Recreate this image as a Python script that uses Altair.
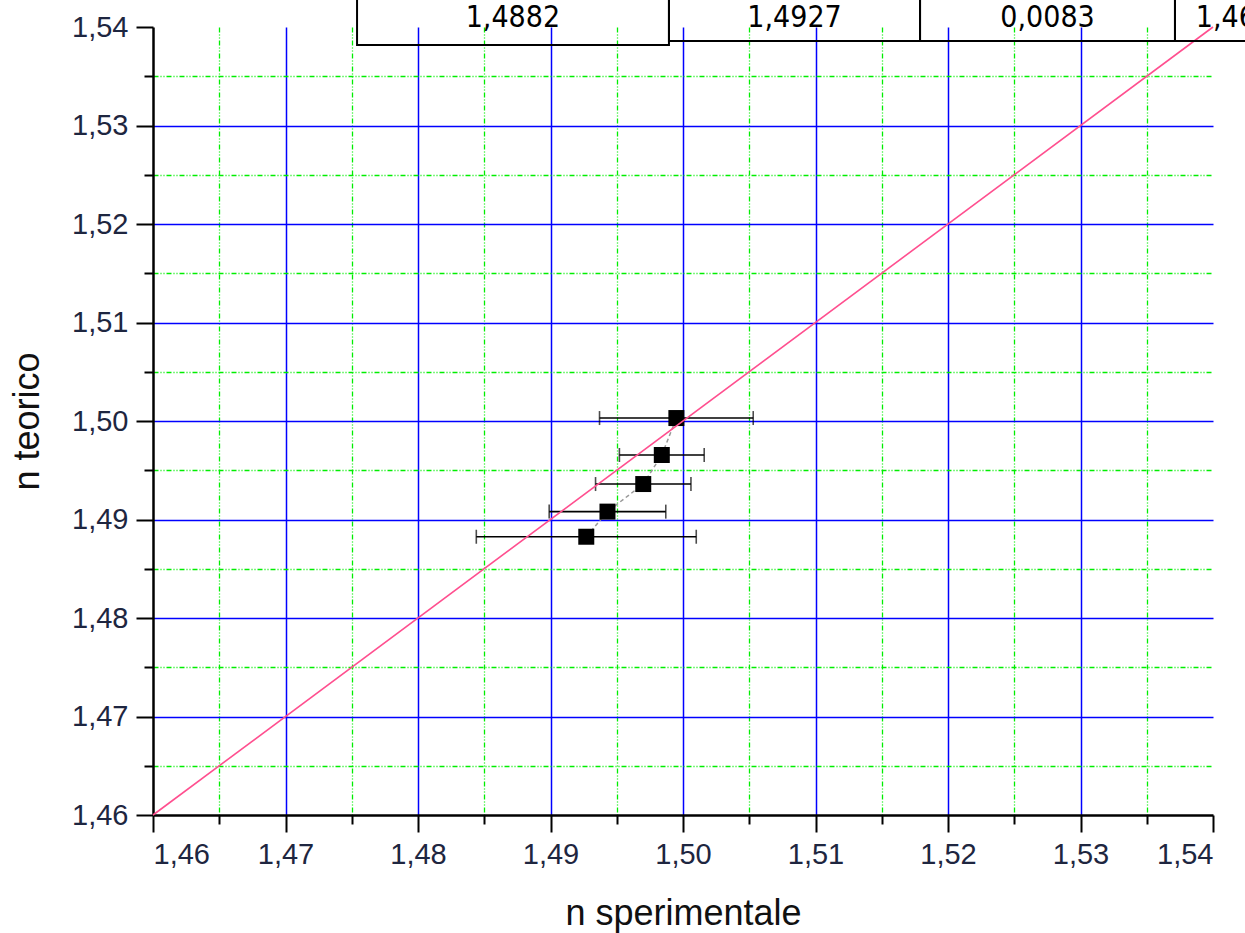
import altair as alt
import pandas as pd

# measured data (n sperimentale, n teorico, errore su n sperimentale)
n_sper = [1.4927, 1.4943, 1.4970, 1.4984, 1.4995]
n_teor = [1.48825, 1.4908, 1.4936, 1.49655, 1.5003]
err_sper = [0.0083, 0.0044, 0.0036, 0.0032, 0.0058]

# y = x reference line
diag = [1.46, 1.54]

# fragment of the table at the top (cells in data units)
cell_text = ["1,4882", "1,4927", "0,0083", "1,46"]
cell_x1 = [1.47540, 1.49894, 1.51789, 1.53713]
cell_x2 = [1.49894, 1.51789, 1.53713, 1.54860]
cell_y1 = [1.53817, 1.53858, 1.53858, 1.53858]
cell_y2 = [1.54380, 1.54380, 1.54380, 1.54380]
text_x = [1.48716, 1.50842, 1.52751, 1.53870]
text_y = [1.53995, 1.54000, 1.54000, 1.54000]
text_align = ["center", "center", "center", "left"]

pts = pd.DataFrame({
    "x": n_sper, "y": n_teor,
    "lo": [a - e for a, e in zip(n_sper, err_sper)],
    "hi": [a + e for a, e in zip(n_sper, err_sper)],
    "order": list(range(len(n_sper))),
})
dg = pd.DataFrame({"x": diag, "y": diag})
tab = pd.DataFrame({"t": cell_text, "x1": cell_x1, "x2": cell_x2, "y1": cell_y1,
                    "y2": cell_y2, "tx": text_x, "ty": text_y, "al": text_align})

ticks = [round(1.46 + 0.005 * i, 3) for i in range(17)]
major = "abs(round(datum.value*200)) % 2 == 0"
edge = "datum.value < 1.4601 || datum.value > 1.5399"
lab = f"{major} ? replace(format(datum.value, '.2f'), '.', ',') : ''"

def make_axis(title, pad_title, pad_label):
    return alt.Axis(
        values=ticks, labelExpr=lab, title=title,
        domainColor="black", domainWidth=2.5,
        tickColor="black", tickWidth=2,
        tickSize={"condition": {"test": major, "value": 17}, "value": 9},
        grid=True,
        gridColor={"condition": {"test": major, "value": "#0000ff"}, "value": "#00ee00"},
        gridDash={"condition": {"test": major, "value": []}, "value": [5, 2, 1, 2, 1, 2]},
        gridWidth={"condition": {"test": major, "value": 1.5}, "value": 1.3},
        gridOpacity={"condition": {"test": edge, "value": 0}, "value": 1},
        labelFont="Liberation Sans", labelFontSize=29, labelColor="#1e2640",
        labelPadding=pad_label,
        titleFont="Liberation Sans", titleFontSize=36, titleFontWeight="normal",
        titleColor="#111111", titlePadding=pad_title,
    )

xs = alt.Scale(domain=[1.46, 1.54], nice=False, zero=False)
ys = alt.Scale(domain=[1.46, 1.54], nice=False, zero=False)

base = alt.Chart(pts)

grid_layer = base.mark_point(opacity=0).encode(
    x=alt.X("x:Q", scale=xs, axis=make_axis("n sperimentale", 27, 8)),
    y=alt.Y("y:Q", scale=ys, axis=make_axis("n teorico", 25, 8)),
)

conn = base.mark_line(color="#999999", strokeWidth=1.5, strokeDash=[4, 3]).encode(
    x="x:Q", y="y:Q", order="order:Q")

bars = base.mark_rule(color="black", strokeWidth=1.6).encode(x="lo:Q", x2="hi:Q", y="y:Q")
cap_lo = base.mark_tick(color="black", orient="vertical", size=14, thickness=1.6).encode(x="lo:Q", y="y:Q")
cap_hi = base.mark_tick(color="black", orient="vertical", size=14, thickness=1.6).encode(x="hi:Q", y="y:Q")

squares = base.mark_square(size=256, color="black", opacity=1).encode(x="x:Q", y="y:Q")

diag_line = alt.Chart(dg).mark_line(color="#ff4f8f", strokeWidth=1.6).encode(x="x:Q", y="y:Q")

cells = alt.Chart(tab).mark_rect(fill=None, stroke="black", strokeWidth=2).encode(
    x="x1:Q", x2="x2:Q", y="y1:Q", y2="y2:Q")

tfont = "DejaVu Sans Condensed, Liberation Sans Narrow, DejaVu Sans"
texts_c = alt.Chart(tab).transform_filter("datum.al == 'center'").mark_text(
    font=tfont, fontSize=30, align="center", baseline="alphabetic", color="black"
).encode(x="tx:Q", y="ty:Q", text="t:N")
texts_l = alt.Chart(tab).transform_filter("datum.al == 'left'").mark_text(
    font=tfont, fontSize=30, align="left", baseline="alphabetic", color="black"
).encode(x="tx:Q", y="ty:Q", text="t:N")

chart = alt.layer(grid_layer, conn, bars, cap_lo, cap_hi, squares, diag_line,
                  cells, texts_c, texts_l).properties(
    width=1060, height=788,
    autosize=alt.AutoSizeParams(type="none"),
    padding={"left": 153, "top": 27, "right": 32, "bottom": 118},
    background="white",
).configure_view(stroke=None)

chart.save("out.html", embed_options={"renderer": "svg", "actions": False})
